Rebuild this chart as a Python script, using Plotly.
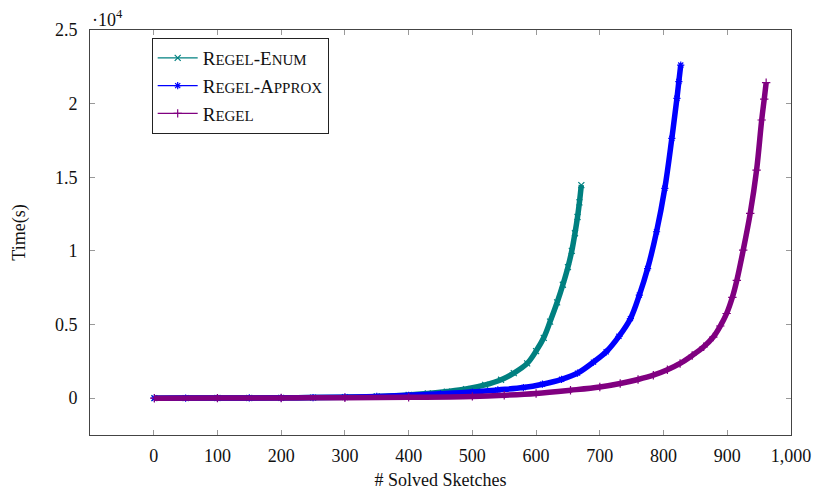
import plotly.graph_objects as go

# ---- data ----
enum_x = [1, 50, 100, 150, 200, 250, 300, 350, 400, 430, 460, 490, 520, 545, 565, 586, 600, 612, 622, 633, 642, 650, 656, 661, 665, 668, 671]
enum_y = [0, 5, 10, 15, 25, 40, 70, 120, 220, 320, 450, 620, 900, 1250, 1700, 2360, 3200, 4100, 5200, 6500, 7700, 8900, 10000, 11200, 12300, 13300, 14470]

approx_x = [1, 50, 100, 150, 200, 250, 300, 350, 400, 450, 500, 540, 580, 610, 640, 665, 690, 710, 730, 748, 762, 775, 789, 802, 813, 821, 824, 827]
approx_y = [0, 5, 10, 15, 25, 40, 70, 120, 200, 300, 420, 560, 720, 950, 1280, 1700, 2450, 3150, 4200, 5400, 7000, 8800, 11300, 14250, 17640, 20360, 21500, 22620]

regel_x = [1, 100, 200, 300, 400, 500, 550, 600, 654, 700, 732, 760, 784, 806, 826, 845, 863, 878, 889, 899, 908, 915, 925, 936, 946, 954, 958, 961]
regel_y = [0, 5, 15, 30, 60, 120, 200, 320, 540, 760, 1000, 1270, 1560, 1930, 2360, 2900, 3490, 4150, 4900, 5750, 6850, 8000, 10050, 12550, 15490, 18890, 20300, 21420]

x_ticks = [0, 100, 200, 300, 400, 500, 600, 700, 800, 900, 1000]
y_ticks = [0, 5000, 10000, 15000, 20000, 25000]
y_tick_labels = ["0", "0.5", "1", "1.5", "2", "2.5"]

SC = "font-size:15px"
names = [
    f"R<span style='{SC}'>EGEL</span>-E<span style='{SC}'>NUM</span>",
    f"R<span style='{SC}'>EGEL</span>-A<span style='{SC}'>PPROX</span>",
    f"R<span style='{SC}'>EGEL</span>",
]
colors = ["#008080", "#0000ff", "#800080"]
symbols = ["x-thin-open", "asterisk-open", "cross-thin-open"]
series = [(enum_x, enum_y), (approx_x, approx_y), (regel_x, regel_y)]

FONT = "Liberation Serif"
fig = go.Figure()

for (xs, ys), c, s in zip(series, colors, symbols):
    fig.add_trace(go.Scatter(
        x=xs, y=ys, mode="lines+markers", showlegend=False,
        line=dict(color=c, width=5.5, shape="spline", smoothing=1.0),
        marker=dict(symbol=s, size=6, color=c, line=dict(color=c, width=1.2)),
        hoverinfo="skip",
    ))

# legend entries (thin line + mark like the reference)
for n, c, s in zip(names, colors, symbols):
    fig.add_trace(go.Scatter(
        x=[None], y=[None], mode="lines+markers", name=n,
        line=dict(color=c, width=1.2),
        marker=dict(symbol=s, size=6, color=c, line=dict(color=c, width=1.2)),
    ))

axis_common = dict(
    showgrid=False, zeroline=False, automargin=False,
    showline=True, linecolor="#444", linewidth=1, mirror="ticks",
    ticks="inside", ticklen=5, tickcolor="#999", tickwidth=1,
)

fig.update_layout(
    width=815, height=490,
    margin=dict(l=90, r=24, t=30, b=55),
    paper_bgcolor="white", plot_bgcolor="white",
    font=dict(family=FONT, size=18, color="#111"),
    xaxis=dict(range=[-100, 1000], tickvals=x_ticks, tickformat=",",
               ticklabelstandoff=4,
               tickfont=dict(family=FONT, size=18, color="#111"),
               title=dict(text="# Solved Sketches", font=dict(family=FONT, size=18), standoff=10),
               **axis_common),
    yaxis=dict(range=[-2500, 25000], tickvals=y_ticks, ticktext=y_tick_labels,
               ticklabelstandoff=8,
               tickfont=dict(family=FONT, size=18, color="#111"),
               title=dict(text="Time(s)", font=dict(family=FONT, size=18), standoff=24),
               **axis_common),
    legend=dict(x=0.088, y=0.98, xanchor="left", yanchor="top",
                bgcolor="white", bordercolor="#222", borderwidth=1,
                font=dict(family=FONT, size=19, color="#111"),
                tracegroupgap=0, itemwidth=40),
    annotations=[dict(text="·10<sup>4</sup>", x=0, y=1, xref="paper", yref="paper",
                      xanchor="left", yanchor="bottom", showarrow=False,
                      font=dict(family=FONT, size=18, color="#111"), yshift=-2)],
)

fig.write_html(
    "out.html",
    config={"displayModeBar": False},
    post_script="document.body.style.margin='0';document.body.style.overflow='hidden';",
)
